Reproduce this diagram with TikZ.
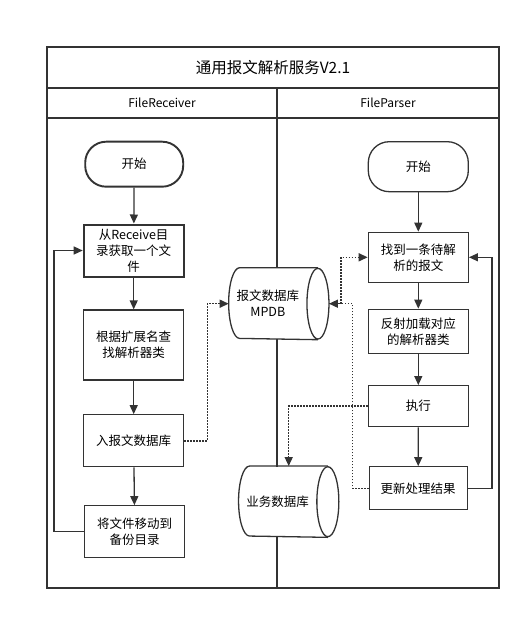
\documentclass[tikz,border=0pt]{standalone}
\usepackage{fontspec}
\setmainfont{Noto Sans CJK SC}
\usetikzlibrary{arrows.meta}

\begin{document}
\begin{tikzpicture}[->,>={Triangle[length=9pt,width=8pt]},x=1pt,y=-1pt,
line width=1.3pt,draw=black!80,
main node/.style={rectangle,draw=black!80,fill=white,minimum width=100pt,
  align=center,inner sep=2pt,font=\fontsize{12.5}{16}\selectfont},
start node/.style={main node,rounded corners=21pt},
db node/.style={rectangle,fill=white,minimum width=77pt,minimum height=70pt,align=center,
  inner sep=1pt,font=\fontsize{12.5}{16}\selectfont},
link/.style={dash pattern=on 1.5pt off 1.5pt,line width=1.5pt}]
\useasboundingbox (0,0) rectangle (531,620);

% Frame and lanes
  \draw[-] (47,47) rectangle (499,588);
  \draw[-] (47,88) -- (499,88);
  \draw[-] (47,118) -- (499,118);
  \draw[-] (277,88) -- (277,588);
  \node (title) at (273,67.5) {\fontsize{15.5}{18}\selectfont 通用报文解析服务V2.1};
  \node (recv) at (162,103) {\fontsize{12}{14}\selectfont FileReceiver};
  \node (pars) at (388,103) {\fontsize{12}{14}\selectfont FileParser};

% FileReceiver lane
  \node[start node,line width=1.9pt,minimum width=98pt,minimum height=45pt] (startL) at (134.2,164.2) {开始};
  \node[main node,line width=2pt,minimum height=52pt] (get) at (133.7,250.5) {从Receive目\\录获取一个文\\件};
  \node[main node,minimum height=70pt] (find) at (133.7,345) {根据扩展名查\\找解析器类};
  \node[main node,minimum height=52pt] (save) at (133.7,440.8) {入报文数据库};
  \node[main node,minimum height=52pt] (move) at (134.7,531.8) {将文件移动到\\备份目录};

  \path
    (startL) edge (get)
    (get) edge (find)
    (find) edge (save)
    (save) edge (move);
  \draw (move.west) -- ++(-30,0) |- (get.west);

% FileParser lane
  \node[start node,minimum height=50pt] (startR) at (418.3,166.7) {开始};
  \node[main node,minimum height=50pt] (pick) at (418.3,257.3) {找到一条待解\\析的报文};
  \node[main node,minimum height=44pt] (load) at (418.3,331.3) {反射加载对应\\的解析器类};
  \node[main node,minimum height=41pt] (exec) at (418.3,406.2) {执行};
  \node[main node,minimum width=98pt,minimum height=43pt] (upd) at (418.2,488.3) {更新处理结果};

  \path
    (startR) edge (pick)
    (pick) edge (load)
    (load) edge (exec)
    (exec) edge (upd);
  \draw (upd.east) -- ++(24,0) |- (pick.east);

% databases (body node + drawn cylinder outline)
  \node[db node,minimum height=70.7pt] (mpdb) at (267.8,303.7) {报文数据库\\MPDB};
  \draw[-] ([xshift=11pt]mpdb.north east) -- ([xshift=11pt]mpdb.north west)
    arc[start angle=270,end angle=90,x radius=11,y radius=35.35] -- ([xshift=11pt]mpdb.south east);
  \draw[-,fill=white] ([xshift=11pt]mpdb.east) ellipse[x radius=11,y radius=35.35];
  \coordinate (mpdb end) at ([xshift=22pt]mpdb.east);

  \node[db node] (bizdb) at (277.7,501.7) {业务数据库};
  \draw[-] ([xshift=11pt]bizdb.north east) -- ([xshift=11pt]bizdb.north west)
    arc[start angle=270,end angle=90,x radius=11,y radius=35] -- ([xshift=11pt]bizdb.south east);
  \draw[-,fill=white] ([xshift=11pt]bizdb.east) ellipse[x radius=11,y radius=35];
  \coordinate (bizdb top) at ([xshift=11pt]bizdb.north);

  \draw[link] (save.east) -- ++(23,0) |- (mpdb.west);
  \draw[link] (upd.west) -- ++(-16,0) |- (mpdb end);
  \draw[link] (mpdb end) -- ++(12,0) |- (pick.west);
  \draw[link] (exec.west) -| (bizdb top);

\end{tikzpicture}
\end{document}
